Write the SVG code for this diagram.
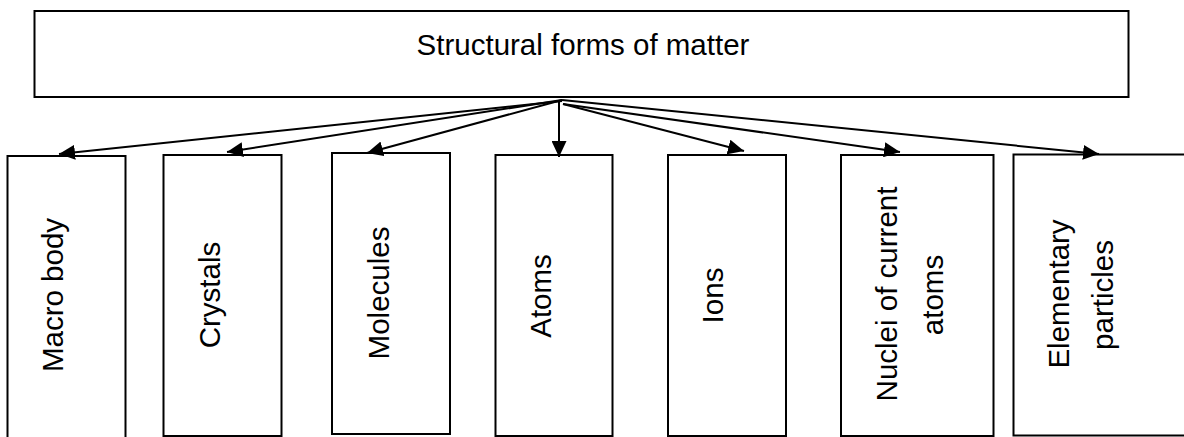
<svg xmlns="http://www.w3.org/2000/svg" width="1184" height="437" viewBox="0 0 1184 437">
<style>
.box{fill:#fff;stroke:#000;stroke-width:2}
.lbl{font-family:"Liberation Sans",Arial,sans-serif;font-size:29.5px;fill:#000;text-anchor:middle}
.conn{stroke:#000;stroke-width:2;fill:none;marker-end:url(#ah)}
</style>
<defs>
<marker id="ah" markerUnits="userSpaceOnUse" markerWidth="16" markerHeight="15" refX="16" refY="7.5" orient="auto">
<path d="M0,0 L16,7.5 L0,15 z" fill="#000"/>
</marker>
</defs>
<rect width="1184" height="437" fill="#fff"/>
<g id="root">
<rect class="box" x="34.5" y="11" width="1094" height="86"/>
<text class="lbl" x="583" y="55">Structural forms of matter</text>
</g>
<g id="macro-body">
<rect class="box" x="7.5" y="156" width="118" height="290"/>
<text class="lbl" transform="translate(63,295) rotate(-90)">Macro body</text>
</g>
<g id="crystals">
<rect class="box" x="163.5" y="155" width="118" height="281"/>
<text class="lbl" transform="translate(220,295) rotate(-90)">Crystals</text>
</g>
<g id="molecules">
<rect class="box" x="332" y="153" width="118" height="281"/>
<text class="lbl" transform="translate(388.5,293) rotate(-90)">Molecules</text>
</g>
<g id="atoms">
<rect class="box" x="495.5" y="155" width="117" height="281"/>
<text class="lbl" transform="translate(551,296) rotate(-90)">Atoms</text>
</g>
<g id="ions">
<rect class="box" x="668" y="155" width="118" height="281"/>
<text class="lbl" transform="translate(723,295.5) rotate(-90)">Ions</text>
</g>
<g id="nuclei">
<rect class="box" x="841" y="155" width="152.5" height="281"/>
<text class="lbl" transform="translate(896.5,294) rotate(-90)">Nuclei of current</text>
<text class="lbl" transform="translate(942.5,295) rotate(-90)">atoms</text>
</g>
<g id="elementary">
<rect class="box" x="1013.5" y="154.5" width="190" height="281"/>
<text class="lbl" transform="translate(1069,294) rotate(-90)">Elementary</text>
<text class="lbl" transform="translate(1113,295) rotate(-90)">particles</text>
</g>
<g id="connectors">
<line class="conn" x1="562" y1="101" x2="59" y2="154"/>
<line class="conn" x1="562" y1="100" x2="227" y2="152"/>
<line class="conn" x1="562" y1="100" x2="367" y2="153"/>
<line class="conn" x1="559" y1="100" x2="559" y2="157"/>
<line class="conn" x1="563" y1="104" x2="744" y2="151"/>
<line class="conn" x1="563" y1="104" x2="900" y2="152"/>
<line class="conn" x1="562" y1="100" x2="1099" y2="154"/>
</g>
</svg>
